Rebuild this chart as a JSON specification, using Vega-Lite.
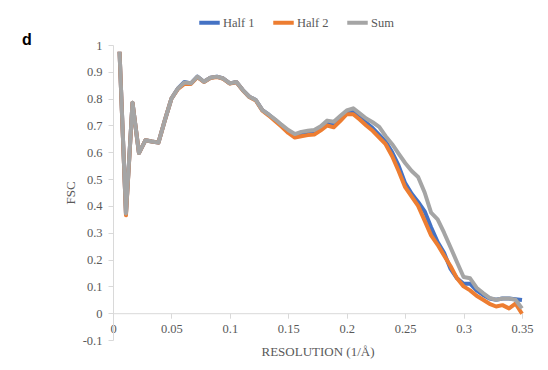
{
  "$schema": "https://vega.github.io/schema/vega-lite/v6.json",
  "autosize": {"type": "none"},
  "width": 409,
  "height": 295,
  "padding": {"left": 113, "top": 45, "right": 26, "bottom": 30},
  "background": "white",
  "title": {"text": "d", "anchor": "start", "frame": "group", "dx": -91, "dy": 42, "font": "Liberation Sans", "fontSize": 16, "fontWeight": "bold", "color": "#000000"},
  "config": {"view": {"stroke": null}, "font": "Liberation Serif"},
  "data": {"values": [
    {"x": 0.0056, "h1": 0.975, "h2": 0.975, "s": 0.975},
    {"x": 0.0111, "h1": 0.37, "h2": 0.365, "s": 0.372},
    {"x": 0.0167, "h1": 0.785, "h2": 0.785, "s": 0.785},
    {"x": 0.0222, "h1": 0.597, "h2": 0.597, "s": 0.597},
    {"x": 0.0278, "h1": 0.645, "h2": 0.645, "s": 0.645},
    {"x": 0.0333, "h1": 0.64, "h2": 0.64, "s": 0.64},
    {"x": 0.0389, "h1": 0.636, "h2": 0.636, "s": 0.636},
    {"x": 0.0444, "h1": 0.72, "h2": 0.72, "s": 0.72},
    {"x": 0.05, "h1": 0.8, "h2": 0.8, "s": 0.8},
    {"x": 0.0556, "h1": 0.838, "h2": 0.836, "s": 0.838},
    {"x": 0.0611, "h1": 0.862, "h2": 0.855, "s": 0.86},
    {"x": 0.0667, "h1": 0.857, "h2": 0.855, "s": 0.857},
    {"x": 0.0722, "h1": 0.882, "h2": 0.88, "s": 0.882},
    {"x": 0.0778, "h1": 0.863, "h2": 0.862, "s": 0.863},
    {"x": 0.0833, "h1": 0.878, "h2": 0.877, "s": 0.878},
    {"x": 0.0889, "h1": 0.882, "h2": 0.881, "s": 0.882},
    {"x": 0.0944, "h1": 0.875, "h2": 0.874, "s": 0.875},
    {"x": 0.1, "h1": 0.857, "h2": 0.856, "s": 0.857},
    {"x": 0.1056, "h1": 0.862, "h2": 0.861, "s": 0.862},
    {"x": 0.1111, "h1": 0.832, "h2": 0.831, "s": 0.832},
    {"x": 0.1167, "h1": 0.807, "h2": 0.806, "s": 0.807},
    {"x": 0.1222, "h1": 0.795, "h2": 0.793, "s": 0.795},
    {"x": 0.1278, "h1": 0.757, "h2": 0.755, "s": 0.757},
    {"x": 0.1333, "h1": 0.74, "h2": 0.737, "s": 0.74},
    {"x": 0.1389, "h1": 0.72, "h2": 0.716, "s": 0.722},
    {"x": 0.1444, "h1": 0.7, "h2": 0.695, "s": 0.702},
    {"x": 0.15, "h1": 0.676, "h2": 0.672, "s": 0.683},
    {"x": 0.1556, "h1": 0.662, "h2": 0.655, "s": 0.668},
    {"x": 0.1611, "h1": 0.666, "h2": 0.66, "s": 0.676},
    {"x": 0.1667, "h1": 0.672, "h2": 0.664, "s": 0.68},
    {"x": 0.1722, "h1": 0.674, "h2": 0.666, "s": 0.683},
    {"x": 0.1778, "h1": 0.688, "h2": 0.682, "s": 0.697},
    {"x": 0.1833, "h1": 0.708, "h2": 0.7, "s": 0.718},
    {"x": 0.1889, "h1": 0.702, "h2": 0.693, "s": 0.714},
    {"x": 0.1944, "h1": 0.724, "h2": 0.716, "s": 0.735},
    {"x": 0.2, "h1": 0.748, "h2": 0.742, "s": 0.756},
    {"x": 0.2056, "h1": 0.75, "h2": 0.742, "s": 0.764},
    {"x": 0.2111, "h1": 0.73, "h2": 0.722, "s": 0.745},
    {"x": 0.2167, "h1": 0.71, "h2": 0.7, "s": 0.726},
    {"x": 0.2222, "h1": 0.69, "h2": 0.68, "s": 0.712},
    {"x": 0.2278, "h1": 0.665, "h2": 0.655, "s": 0.695},
    {"x": 0.2333, "h1": 0.64, "h2": 0.63, "s": 0.66},
    {"x": 0.2389, "h1": 0.6, "h2": 0.585, "s": 0.63},
    {"x": 0.2444, "h1": 0.55, "h2": 0.53, "s": 0.595},
    {"x": 0.25, "h1": 0.485, "h2": 0.47, "s": 0.56},
    {"x": 0.2556, "h1": 0.445, "h2": 0.435, "s": 0.53},
    {"x": 0.2611, "h1": 0.415, "h2": 0.4, "s": 0.508},
    {"x": 0.2667, "h1": 0.38, "h2": 0.345, "s": 0.45},
    {"x": 0.2722, "h1": 0.32, "h2": 0.29, "s": 0.375},
    {"x": 0.2778, "h1": 0.265, "h2": 0.255, "s": 0.35},
    {"x": 0.2833, "h1": 0.225, "h2": 0.215, "s": 0.3},
    {"x": 0.2889, "h1": 0.165, "h2": 0.175, "s": 0.245},
    {"x": 0.2944, "h1": 0.13, "h2": 0.13, "s": 0.19},
    {"x": 0.3, "h1": 0.11, "h2": 0.1, "s": 0.135},
    {"x": 0.3056, "h1": 0.11, "h2": 0.085, "s": 0.13},
    {"x": 0.3111, "h1": 0.085, "h2": 0.065, "s": 0.095},
    {"x": 0.3167, "h1": 0.068, "h2": 0.05, "s": 0.075},
    {"x": 0.3222, "h1": 0.055, "h2": 0.035, "s": 0.057},
    {"x": 0.3278, "h1": 0.05, "h2": 0.025, "s": 0.05},
    {"x": 0.3333, "h1": 0.055, "h2": 0.03, "s": 0.055},
    {"x": 0.3389, "h1": 0.055, "h2": 0.018, "s": 0.055},
    {"x": 0.3444, "h1": 0.052, "h2": 0.036, "s": 0.05},
    {"x": 0.35, "h1": 0.049, "h2": -0.002, "s": 0.018}
  ]},
  "transform": [
    {"fold": ["h1", "h2", "s"], "as": ["key", "fsc"]},
    {"lookup": "key", "from": {"data": {"values": [
      {"key": "h1", "series": "Half 1"},
      {"key": "h2", "series": "Half 2"},
      {"key": "s", "series": "Sum"}
    ]}, "key": "key", "fields": ["series"]}}
  ],
  "mark": {"type": "line", "strokeWidth": 4, "strokeJoin": "round", "strokeCap": "butt"},
  "encoding": {
    "x": {
      "field": "x", "type": "quantitative",
      "scale": {"domain": [0, 0.35], "nice": false, "zero": false},
      "axis": {
        "title": "RESOLUTION (1/Å)",
        "values": [0, 0.05, 0.1, 0.15, 0.2, 0.25, 0.3, 0.35],
        "format": "~g",
        "offset": -26.8,
        "grid": false,
        "domainColor": "#D9D9D9",
        "tickColor": "#D9D9D9",
        "tickSize": 5,
        "labelPadding": 4,
        "labelFont": "Liberation Serif",
        "labelFontSize": 12.5,
        "labelColor": "#595959",
        "labelFlush": false,
        "titleFont": "Liberation Serif",
        "titleFontSize": 13,
        "titleFontWeight": "normal",
        "titleColor": "#595959",
        "titlePadding": 11
      }
    },
    "y": {
      "field": "fsc", "type": "quantitative",
      "scale": {"domain": [-0.1, 1], "nice": false, "zero": false},
      "axis": {
        "title": "FSC",
        "values": [-0.1, 0, 0.1, 0.2, 0.3, 0.4, 0.5, 0.6, 0.7, 0.8, 0.9, 1],
        "labelExpr": "replace(format(datum.value, '.1~f'), '−', '-')",
        "grid": false,
        "domainColor": "#D9D9D9",
        "tickColor": "#D9D9D9",
        "tickSize": 5,
        "labelPadding": 6,
        "labelFont": "Liberation Serif",
        "labelFontSize": 12.5,
        "labelColor": "#595959",
        "labelFlush": false,
        "titleFont": "Liberation Serif",
        "titleFontSize": 13,
        "titleFontWeight": "normal",
        "titleColor": "#595959",
        "titlePadding": 5
      }
    },
    "color": {
      "field": "series", "type": "nominal",
      "scale": {"domain": ["Half 1", "Half 2", "Sum"], "range": ["#4472C4", "#ED7D31", "#A5A5A5"]},
      "legend": {
        "title": null,
        "orient": "none",
        "direction": "horizontal",
        "legendX": 84,
        "legendY": -35,
        "symbolType": "stroke",
        "symbolSize": 420,
        "symbolStrokeWidth": 4,
        "labelFont": "Liberation Serif",
        "labelFontSize": 12.5,
        "labelColor": "#595959",
        "labelOffset": 1,
        "columnPadding": 10
      }
    }
  }
}
